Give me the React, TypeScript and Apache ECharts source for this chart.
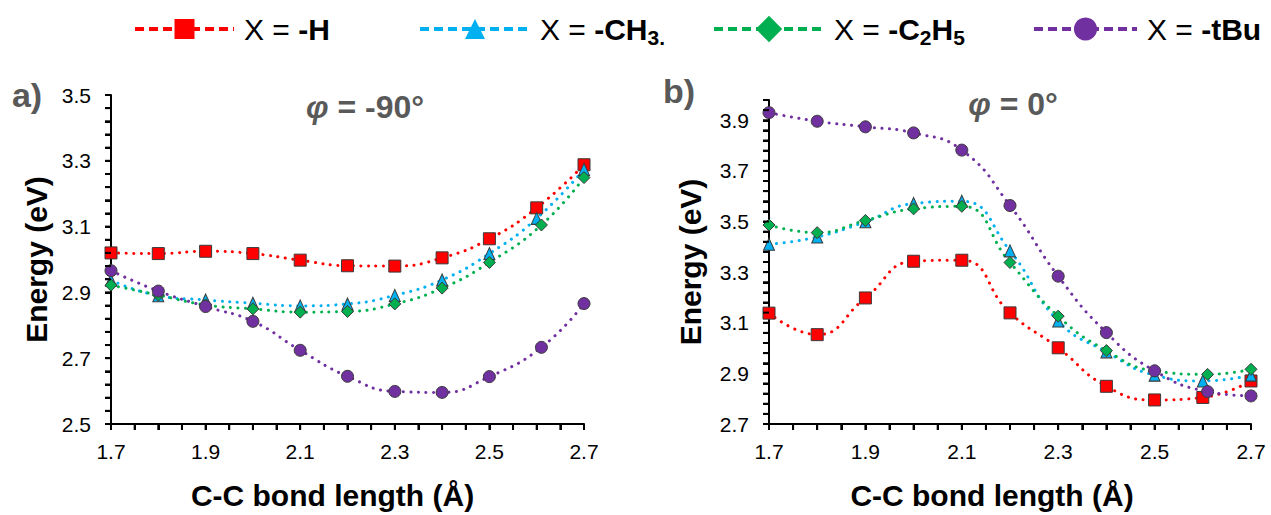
import React, { useEffect, useRef } from 'react';
import * as echarts from 'echarts';

// ---------- data ----------
const bondLength = [1.7, 1.8, 1.9, 2.0, 2.1, 2.2, 2.3, 2.4, 2.5, 2.6, 2.7];
const bondLengthShifted = [1.7, 1.8, 1.9, 2.0, 2.1, 2.2, 2.3, 2.4, 2.5, 2.61, 2.7];

// panel a) phi = -90
const hA = [3.020, 3.018, 3.025, 3.018, 2.998, 2.981, 2.980, 3.005, 3.063, 3.157, 3.288];
const ch3A = [2.937, 2.890, 2.877, 2.867, 2.859, 2.865, 2.891, 2.938, 3.018, 3.125, 3.274];
const c2h5A = [2.922, 2.892, 2.862, 2.850, 2.840, 2.842, 2.865, 2.913, 2.991, 3.105, 3.249];
const tbuA = [2.966, 2.904, 2.857, 2.812, 2.724, 2.645, 2.599, 2.596, 2.644, 2.733, 2.866];

// panel b) phi = 0
const hB = [3.138, 3.053, 3.198, 3.343, 3.347, 3.139, 3.001, 2.849, 2.795, 2.805, 2.870];
const ch3B = [3.410, 3.439, 3.499, 3.571, 3.580, 3.384, 3.107, 2.985, 2.893, 2.870, 2.893];
const c2h5B = [3.486, 3.456, 3.504, 3.550, 3.560, 3.338, 3.126, 2.990, 2.910, 2.896, 2.916];
const tbuB = [3.930, 3.896, 3.874, 3.850, 3.782, 3.563, 3.284, 3.061, 2.910, 2.828, 2.811];

const seriesNames = ['H', 'CH3', 'C2H5', 'tBu'];
const xTickLabels = [1.7, 1.9, 2.1, 2.3, 2.5, 2.7];
const yTickLabelsA = [2.5, 2.7, 2.9, 3.1, 3.3, 3.5];
const yTickLabelsB = [2.7, 2.9, 3.1, 3.3, 3.5, 3.7, 3.9];

// ---------- styles ----------
const FONT = '"Liberation Sans", Arial, Helvetica, sans-serif';
const COLORS: Record<string, string> = { H: '#FF0000', CH3: '#00B0F0', C2H5: '#00B050', tBu: '#7030A0' };
const SYMBOLS: Record<string, string> = { H: 'rect', CH3: 'triangle', C2H5: 'diamond', tBu: 'circle' };
const SIZES: Record<string, number | number[]> = { H: 12, CH3: [11, 12], C2H5: 12, tBu: 12 };
const TICK_LEN = 6;
const TICK_W = 2;

// tick mark positions (every `step` from min to max)
function tickValues(min: number, max: number, step: number) {
  const out: number[] = [];
  const n = Math.round((max - min) / step);
  for (let i = 0; i <= n; i++) out.push(Math.round((min + i * step) * 1000) / 1000);
  return out;
}

function mkSeries(name: string, xs: number[], ys: number[], idx: number) {
  return {
    name,
    type: 'line',
    xAxisIndex: idx,
    yAxisIndex: idx,
    data: xs.map((x, i) => [x, ys[i]]),
    smooth: 0.5,
    clip: false,
    symbol: SYMBOLS[name],
    symbolSize: SIZES[name],
    showAllSymbol: true,
    z: 3,
    lineStyle: { color: COLORS[name], width: 3, type: [0.1, 7.5], cap: 'round' },
    itemStyle: { color: COLORS[name], borderColor: '#3a3a3a', borderWidth: 1 },
    emphasis: { disabled: true },
  };
}

// tick marks placed through the axis scales (scatter of thin bars sitting on the axis)
function tickSeries(idx: number, dir: 'x' | 'y', values: number[], fixed: number) {
  return {
    name: `ticks-${dir}-${idx}`,
    type: 'scatter',
    xAxisIndex: idx,
    yAxisIndex: idx,
    silent: true,
    clip: false,
    z: 6,
    symbol: 'rect',
    symbolSize: dir === 'x' ? [TICK_W, TICK_LEN] : [TICK_LEN, TICK_W],
    symbolOffset: dir === 'x' ? [0, TICK_LEN / 2] : [-TICK_LEN / 2, 0],
    itemStyle: { color: '#000000', opacity: 1, borderWidth: 0 },
    emphasis: { disabled: true },
    data: values.map((v) => (dir === 'x' ? [v, fixed] : [fixed, v])),
  };
}

function xAxis(idx: number, padRight: number) {
  return {
    type: 'value',
    gridIndex: idx,
    min: 1.7,
    max: 2.7,
    interval: 0.05,
    axisLine: { show: true, onZero: false, lineStyle: { color: '#000', width: 2 } },
    axisTick: { show: true, inside: false, length: TICK_LEN, lineStyle: { color: '#000', width: TICK_W } },
    splitLine: { show: false },
    axisLabel: {
      show: true,
      color: '#000',
      fontSize: 21,
      fontFamily: FONT,
      margin: 17,
      customValues: xTickLabels,
      formatter: (v: number) => v.toFixed(1),
    },
    name: 'C-C bond length (Å)',
    nameLocation: 'middle',
    nameGap: 56,
    nameTextStyle: { color: '#000', fontSize: 30, fontWeight: 'bold', fontFamily: FONT, padding: [0, padRight, 0, 0] },
  };
}

function yAxis(idx: number, min: number, max: number, labels: number[], gap: number) {
  return {
    type: 'value',
    gridIndex: idx,
    min,
    max,
    interval: 0.04,
    axisLine: { show: true, onZero: false, lineStyle: { color: '#000', width: 2 } },
    axisTick: { show: true, inside: false, length: TICK_LEN, lineStyle: { color: '#000', width: TICK_W } },
    splitLine: { show: false },
    axisLabel: {
      show: true,
      color: '#000',
      fontSize: 21,
      fontFamily: FONT,
      margin: 20,
      customValues: labels,
      formatter: (v: number) => v.toFixed(1),
    },
    name: 'Energy (eV)',
    nameLocation: 'middle',
    nameGap: gap,
    nameTextStyle: { color: '#000', fontSize: 30, fontWeight: 'bold', fontFamily: FONT },
  };
}

const legendRich = {
  n: { fontSize: 30, fontFamily: FONT, color: '#000', lineHeight: 38 },
  b: { fontSize: 30, fontFamily: FONT, fontWeight: 'bold', color: '#000', lineHeight: 38 },
  s: { fontSize: 21, fontFamily: FONT, fontWeight: 'bold', color: '#000', lineHeight: 18, verticalAlign: 'bottom' },
};
const legendText: Record<string, string> = {
  H: '{n|X = }{b|-H}',
  CH3: '{n|X = }{b|-CH}{s|3.}',
  C2H5: '{n|X = }{b|-C}{s|2}{b|H}{s|5}',
  tBu: '{n|X = }{b|-tBu}',
};
const legendLayout: Record<string, { left: number; w: number; h: number }> = {
  H: { left: 133, w: 99, h: 25 },
  CH3: { left: 418, w: 110, h: 25 },
  C2H5: { left: 712, w: 110, h: 33 },
  tBu: { left: 1032, w: 103, h: 29 },
};

function mkLegend(name: string) {
  const l = legendLayout[name];
  return {
    data: [name],
    left: l.left,
    top: 14,
    padding: 0,
    itemGap: 0,
    itemWidth: l.w,
    itemHeight: l.h,
    selectedMode: false,
    lineStyle: { type: [9, 5], width: 4, cap: 'butt' },
    itemStyle: { borderWidth: 0 },
    formatter: () => legendText[name],
    textStyle: { rich: legendRich, padding: [0, 0, 0, 5] },
  };
}

function panelText(text: string, x: number, y: number, size: number) {
  return {
    type: 'text',
    x,
    y,
    style: {
      text,
      fill: '#595959',
      fontSize: size,
      fontWeight: 'bold',
      fontFamily: FONT,
      textAlign: 'center',
      textVerticalAlign: 'middle',
    },
  };
}

function phiText(text: string, x: number, y: number) {
  return {
    type: 'text',
    x,
    y,
    style: {
      text: `{i|φ}{t|${text}}`,
      textAlign: 'center',
      textVerticalAlign: 'middle',
      rich: {
        i: { fontSize: 32, fontWeight: 'bold', fontStyle: 'italic', fontFamily: FONT, fill: '#595959', color: '#595959' },
        t: { fontSize: 32, fontWeight: 'bold', fontFamily: FONT, fill: '#595959', color: '#595959' },
      },
    },
  };
}

export default function App() {
  const ref = useRef<HTMLDivElement>(null);
  useEffect(() => {
    if (!ref.current) return;
    const chart = echarts.init(ref.current, undefined, { renderer: 'svg' });
    const option = {
      animation: false,
      backgroundColor: '#ffffff',
      grid: [
        { left: 111, top: 95, width: 473, height: 332 },
        { left: 769, top: 100, width: 482, height: 326 },
      ],
      xAxis: [xAxis(0, 30), xAxis(1, 36)],
      yAxis: [yAxis(0, 2.5, 3.5, yTickLabelsA, 60), yAxis(1, 2.7, 3.98, yTickLabelsB, 64)],
      legend: seriesNames.map(mkLegend),
      graphic: [
        panelText('a)', 27, 95, 34),
        panelText('b)', 679, 91, 34),
        phiText(' = -90°', 365, 107),
        phiText(' = 0°', 1013, 104),
      ],
      series: [
        mkSeries('H', bondLength, hA, 0),
        mkSeries('CH3', bondLength, ch3A, 0),
        mkSeries('C2H5', bondLengthShifted, c2h5A, 0),
        mkSeries('tBu', bondLengthShifted, tbuA, 0),
        mkSeries('H', bondLength, hB, 1),
        mkSeries('CH3', bondLength, ch3B, 1),
        mkSeries('C2H5', bondLengthShifted, c2h5B, 1),
        mkSeries('tBu', bondLengthShifted, tbuB, 1),
        tickSeries(0, 'x', tickValues(1.7, 2.7, 0.05), 2.5),
        tickSeries(0, 'y', tickValues(2.5, 3.5, 0.04), 1.7),
        tickSeries(1, 'x', tickValues(1.7, 2.7, 0.05), 2.7),
        tickSeries(1, 'y', tickValues(2.7, 3.98, 0.04), 1.7),
      ],
    };
    chart.setOption(option as any);
    return () => chart.dispose();
  }, []);
  return (
    <div
      ref={ref}
      style={{ position: 'absolute', left: 0, top: 0, width: 1271, height: 515, background: '#fff' }}
    />
  );
}
